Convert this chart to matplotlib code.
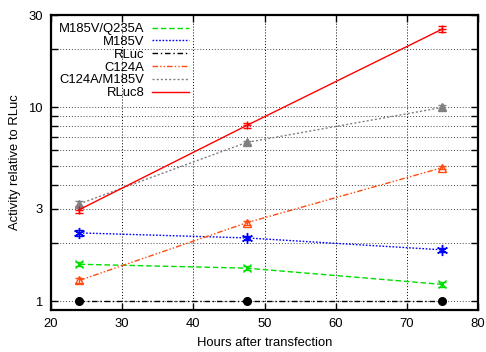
import matplotlib
matplotlib.use('Agg')
import matplotlib.pyplot as plt
from matplotlib.lines import Line2D
from matplotlib.ticker import FixedLocator, NullFormatter

plt.rcParams['font.family'] = ['Liberation Sans', 'DejaVu Sans']

hours = [24, 47.5, 75]

# activity relative to RLuc
labels = ['M185V/Q235A', 'M185V', 'RLuc', 'C124A', 'C124A/M185V', 'RLuc8']
values = {
    'M185V/Q235A': [1.55, 1.48, 1.22],
    'M185V': [2.25, 2.12, 1.84],
    'RLuc': [1.0, 1.0, 1.0],
    'C124A': [1.28, 2.54, 4.89],
    'C124A/M185V': [3.18, 6.6, 10.0],
    'RLuc8': [2.97, 8.07, 25.4],
}
errors = {
    'M185V/Q235A': [0.04, 0.04, 0.03],
    'M185V': [0.07, 0.06, 0.04],
    'RLuc': [0.0, 0.0, 0.0],
    'C124A': [0.04, 0.06, 0.1],
    'C124A/M185V': [0.12, 0.12, 0.25],
    'RLuc8': [0.12, 0.25, 0.8],
}

styles = {
    'M185V/Q235A': dict(color='#00dd00', ls=(0, (4, 2)), marker='x', mfc='none', ms=6),
    'M185V': dict(color='#0000ff', ls=(0, (1.2, 1.2)), marker=(6, 2, 0), mfc='none', ms=8),
    'RLuc': dict(color='black', ls=(0, (4, 2, 1, 2)), marker='o', mfc='black', ms=5.5),
    'C124A': dict(color='#ff4a10', ls=(0, (4, 1.5, 1, 1.5, 1, 1.5)), marker='^', mfc='none', ms=6),
    'C124A/M185V': dict(color='#808080', ls=(0, (1.5, 1.5)), marker='^', mfc='#808080', ms=5.5),
    'RLuc8': dict(color='#ff0000', ls='-', marker='+', mfc='none', ms=6),
}

fig = plt.figure(figsize=(4.86, 3.52), dpi=100)
ax = fig.add_axes([51 / 486, 1 - 310 / 352, 427 / 486, 295 / 352])

handles = []
for name in labels:
    st = styles[name]
    ax.errorbar(hours, values[name], yerr=errors[name], color=st['color'], ls=st['ls'],
                lw=1.0, marker=st['marker'], mfc=st['mfc'], mec=st['color'], ms=st['ms'],
                mew=1.0, capsize=3, elinewidth=1.0, zorder=3)
    handles.append(Line2D([], [], color=st['color'], ls=st['ls'], lw=1.0))

ax.set_yscale('log')
ax.set_xlim(20, 80)
ax.set_ylim(0.9, 30)

ax.set_xticks([20, 30, 40, 50, 60, 70, 80])
ax.yaxis.set_major_locator(FixedLocator([1, 3, 10, 30]))
ax.set_yticklabels(['1', '3', '10', '30'])
ax.yaxis.set_minor_locator(FixedLocator([2, 4, 5, 6, 7, 8, 9, 20]))
ax.yaxis.set_minor_formatter(NullFormatter())

ax.tick_params(which='both', direction='in', top=True, right=True, length=5, width=1.0,
               labelsize=9.4, pad=6)
for s in ax.spines.values():
    s.set_linewidth(1.6)

for x in [30, 40, 50, 60, 70]:
    ax.axvline(x, color='black', ls=(0, (1, 2)), lw=0.7, zorder=1)
for y in [1, 2, 3, 4, 5, 6, 7, 8, 9, 10, 20, 30]:
    ax.axhline(y, color='#444444', ls=(0, (1, 2)), lw=0.7, zorder=1)

ax.set_xlabel('Hours after transfection', fontsize=9.4, labelpad=5)
ax.set_ylabel('Activity relative to RLuc', fontsize=9.4, labelpad=5)

leg = ax.legend(handles, labels, loc='upper left', markerfirst=False, frameon=False,
                fontsize=9.4, handlelength=2.9, handletextpad=0.55, labelspacing=0.05,
                borderpad=0, borderaxespad=0,
                bbox_to_anchor=(8 / 427, 1 - 8 / 295))

fig.savefig('out.png', dpi=100)
